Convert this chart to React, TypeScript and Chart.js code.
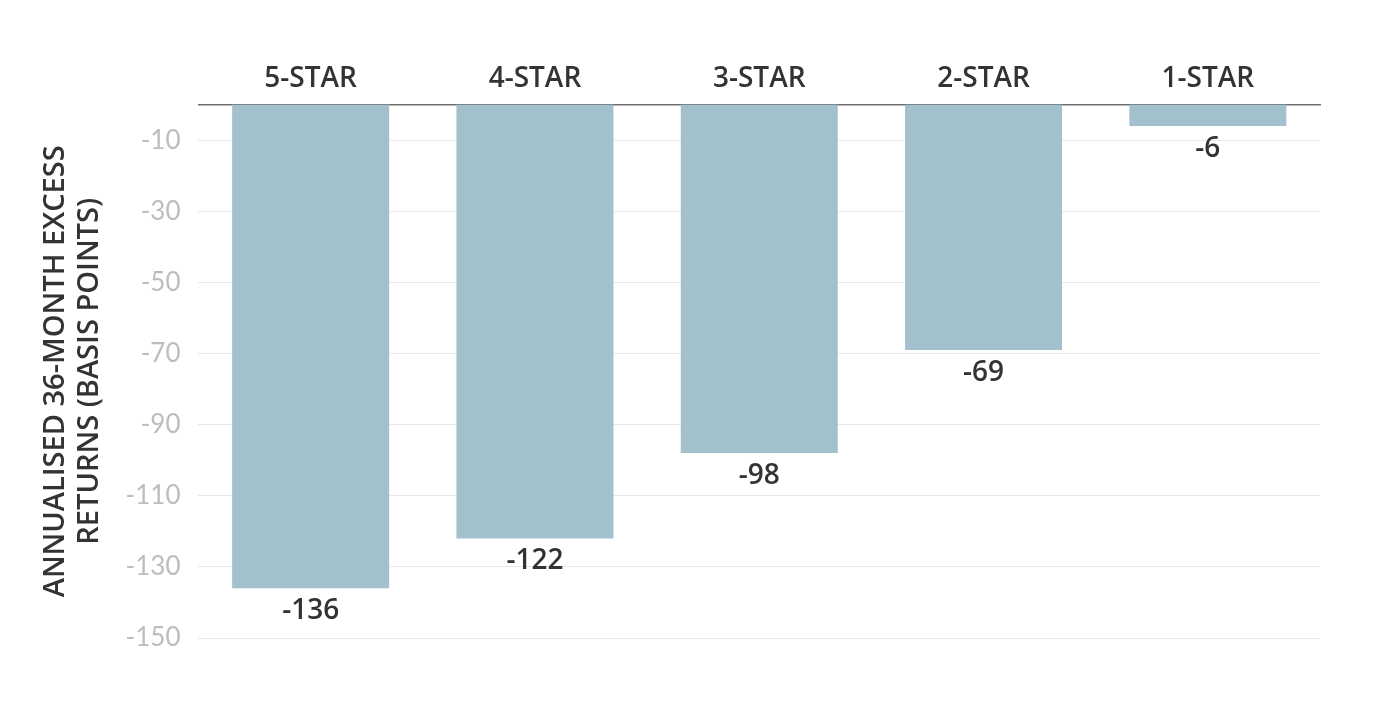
import React, { useEffect, useRef } from "react";
import { Chart, registerables } from "chart.js";

Chart.register(...registerables);

const categories = ["5-STAR", "4-STAR", "3-STAR", "2-STAR", "1-STAR"];
const excessReturns = [-136, -122, -98, -69, -6];
const yTickValues = [-10, -30, -50, -70, -90, -110, -130, -150];
const yTitleLines = ["ANNUALISED 36-MONTH EXCESS", "RETURNS (BASIS POINTS)"];

const FONT = "'Open Sans', 'Noto Sans', sans-serif";
const LIGHT_FONT = "Lato, 'Noto Sans', sans-serif";

const valueLabelPlugin = {
  id: "valueLabels",
  afterDatasetsDraw(chart: any) {
    const ctx = chart.ctx;
    const meta = chart.getDatasetMeta(0);
    ctx.save();
    ctx.font = `600 28px ${FONT}`;
    ctx.fillStyle = "#333333";
    ctx.textAlign = "center";
    ctx.textBaseline = "middle";
    meta.data.forEach((bar: any, i: number) => {
      const v = chart.data.datasets[0].data[i];
      ctx.fillText(String(v), bar.x, bar.y + 23);
    });
    ctx.restore();
  },
};

export default function App() {
  const ref = useRef<HTMLCanvasElement | null>(null);
  useEffect(() => {
    if (!ref.current) return;
    const chart = new Chart(ref.current, {
      type: "bar",
      data: {
        labels: categories,
        datasets: [
          {
            data: excessReturns,
            backgroundColor: "#a3c1cc",
            borderWidth: 0,
            categoryPercentage: 1,
            barPercentage: 0.7,
          },
        ],
      },
      options: {
        animation: false,
        responsive: false,
        maintainAspectRatio: false,
        layout: { padding: { top: 53, right: 80, bottom: 85, left: 38 } },
        plugins: {
          legend: { display: false },
          tooltip: { enabled: false },
        },
        scales: {
          x: {
            position: "top",
            grid: { display: false, drawTicks: false },
            border: { display: true, color: "#707070", width: 1.5 },
            ticks: {
              color: "#333333",
              font: { family: FONT, size: 28, weight: "600" },
              padding: 9,
            },
          },
          y: {
            min: -150,
            max: 0,
            afterBuildTicks: (axis: any) => {
              axis.ticks = yTickValues.map((v) => ({ value: v }));
            },
            grid: { color: "#e8e8e8", lineWidth: 1, drawTicks: false },
            border: { display: false },
            ticks: {
              color: "#bdbdbd",
              font: { family: LIGHT_FONT, size: 26 },
              padding: 18,
            },
            title: {
              display: true,
              text: yTitleLines,
              color: "#333333",
              font: { family: FONT, size: 29, weight: "600", lineHeight: 1.2 },
              padding: { top: 0, bottom: 0 },
            },
          },
        },
      },
      plugins: [valueLabelPlugin],
    });
    return () => chart.destroy();
  }, []);
  return (
    <div style={{ position: "fixed", left: 0, top: 0, width: 1400, height: 723, background: "#fff" }}>
      <canvas ref={ref} width={1400} height={723} style={{ width: 1400, height: 723 }} />
    </div>
  );
}
